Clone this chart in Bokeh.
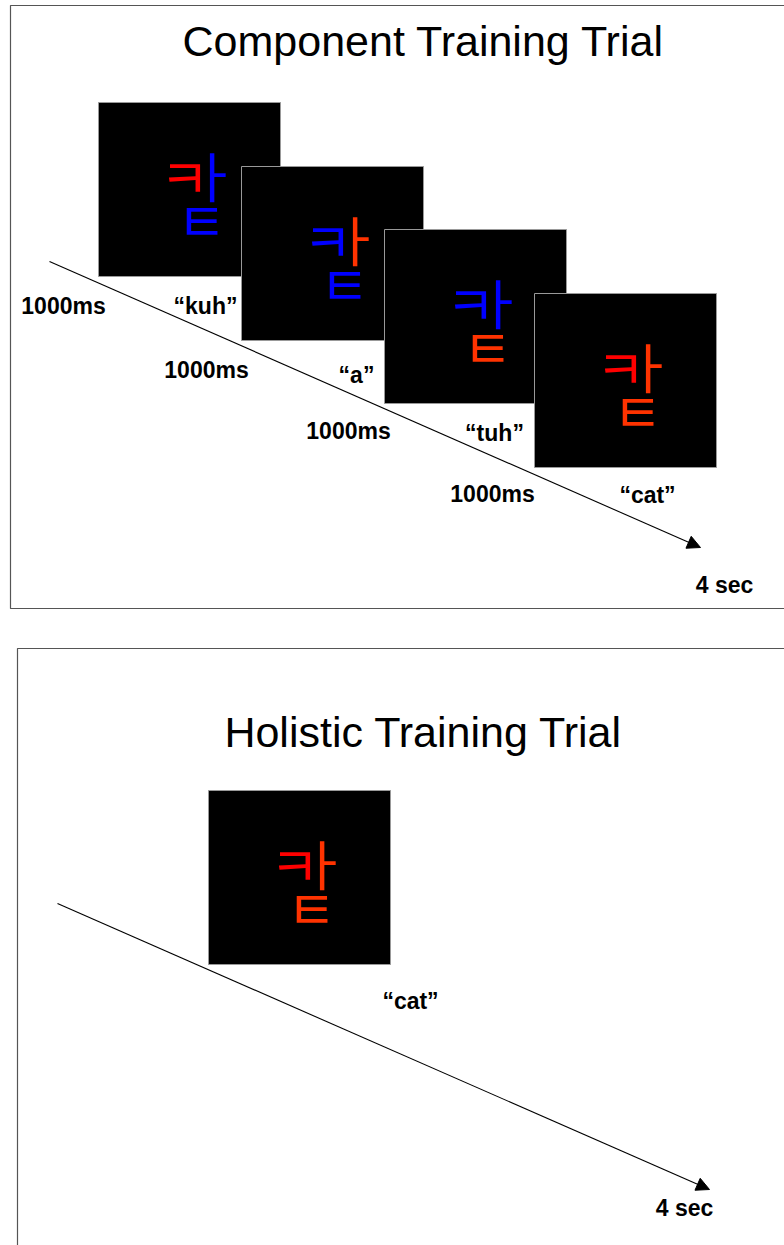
from bokeh.plotting import figure
from bokeh.models import Range1d, Arrow, NormalHead
from bokeh.core.properties import value
from bokeh.embed import file_html
from bokeh.resources import INLINE

# ---- data ----
titles = ["Component Training Trial", "Holistic Training Trial"]
sounds = ["\u201ckuh\u201d", "\u201ca\u201d", "\u201ctuh\u201d", "\u201ccat\u201d"]
durations = ["1000ms", "1000ms", "1000ms", "1000ms"]
total = "4 sec"
jamo = ["\u314b", "\u314f", "\u314c"]  # ㅋ ㅏ ㅌ  -> 캍
RED, ORG, BLUE = "#ff0000", "#ff3300", "#0000ff"
component_colors = [
    [RED, BLUE, BLUE],
    [BLUE, ORG, BLUE],
    [BLUE, BLUE, ORG],
    [RED, ORG, ORG],
]
holistic_colors = [RED, ORG, ORG]
holistic_sound = "\u201ccat\u201d"

# ---- layout (screen pixel coordinates) ----
W, H = 784, 1245
p = figure(width=W, height=H, x_range=Range1d(0, W), y_range=Range1d(H, 0),
           output_backend="svg", toolbar_location=None, min_border=0,
           x_axis_location=None, y_axis_location=None)
p.grid.visible = False
p.outline_line_color = None
p.background_fill_color = "white"

FONT = value("Liberation Sans")
KFONT = value("Noto Sans CJK KR")

# panel frames
p.quad(left=[10, 17], right=[820, 820], top=[5, 648], bottom=[608, 1270],
       fill_color=None, line_color="#555555", line_width=1.2)

# titles
p.text(x=[423, 423], y=[40, 731], text=titles, text_font=FONT, text_font_size="43px",
       text_align="center", text_baseline="middle", text_color="black")

# timelines
p.add_layout(Arrow(end=NormalHead(size=13, fill_color="black", line_color="black"),
                   x_start=49, y_start=261, x_end=700, y_end=547,
                   line_width=1.1, line_color="black"))
p.add_layout(Arrow(end=NormalHead(size=13, fill_color="black", line_color="black"),
                   x_start=57, y_start=903, x_end=709, y_end=1189,
                   line_width=1.1, line_color="black"))

SQ_W, SQ_H = 182, 174
comp_x = [98, 241, 384, 534]
comp_y = [102, 166, 229, 293]
hol_x, hol_y = [208], [790]

# jamo offsets inside a square: (dx, dy, font size)
JAMO_POS = [(86, 73, "54px"), (115, 72, "54px"), (103, 116, "54px")]


def draw_square(x0, y0, colors):
    p.quad(left=[x0], right=[x0 + SQ_W], top=[y0], bottom=[y0 + SQ_H],
           fill_color="black", line_color="#999999", line_width=1)
    for (dx, dy, fs), ch, c in zip(JAMO_POS, jamo, colors):
        p.text(x=[x0 + dx], y=[y0 + dy], text=[ch], text_font=KFONT,
               text_font_size=fs, text_align="center", text_baseline="middle",
               text_color=c)


for x0, y0, cols in zip(comp_x, comp_y, component_colors):
    draw_square(x0, y0, cols)
draw_square(hol_x[0], hol_y[0], holistic_colors)

# labels
dur_x = [63, 206, 348, 492]
dur_y = [305, 369, 430, 493]
snd_x = [205, 356, 494, 647]
snd_y = [305, 374, 432, 494]
LBL = dict(text_font=FONT, text_font_style="bold", text_font_size="23px",
           text_align="center", text_baseline="middle", text_color="black")
p.text(x=dur_x, y=dur_y, text=durations, **LBL)
p.text(x=snd_x, y=snd_y, text=sounds, **LBL)
p.text(x=[724, 684], y=[584, 1207], text=[total, total], **LBL)
p.text(x=[410], y=[1000], text=[holistic_sound], **LBL)

open("out.html", "w").write(file_html(p, INLINE))
